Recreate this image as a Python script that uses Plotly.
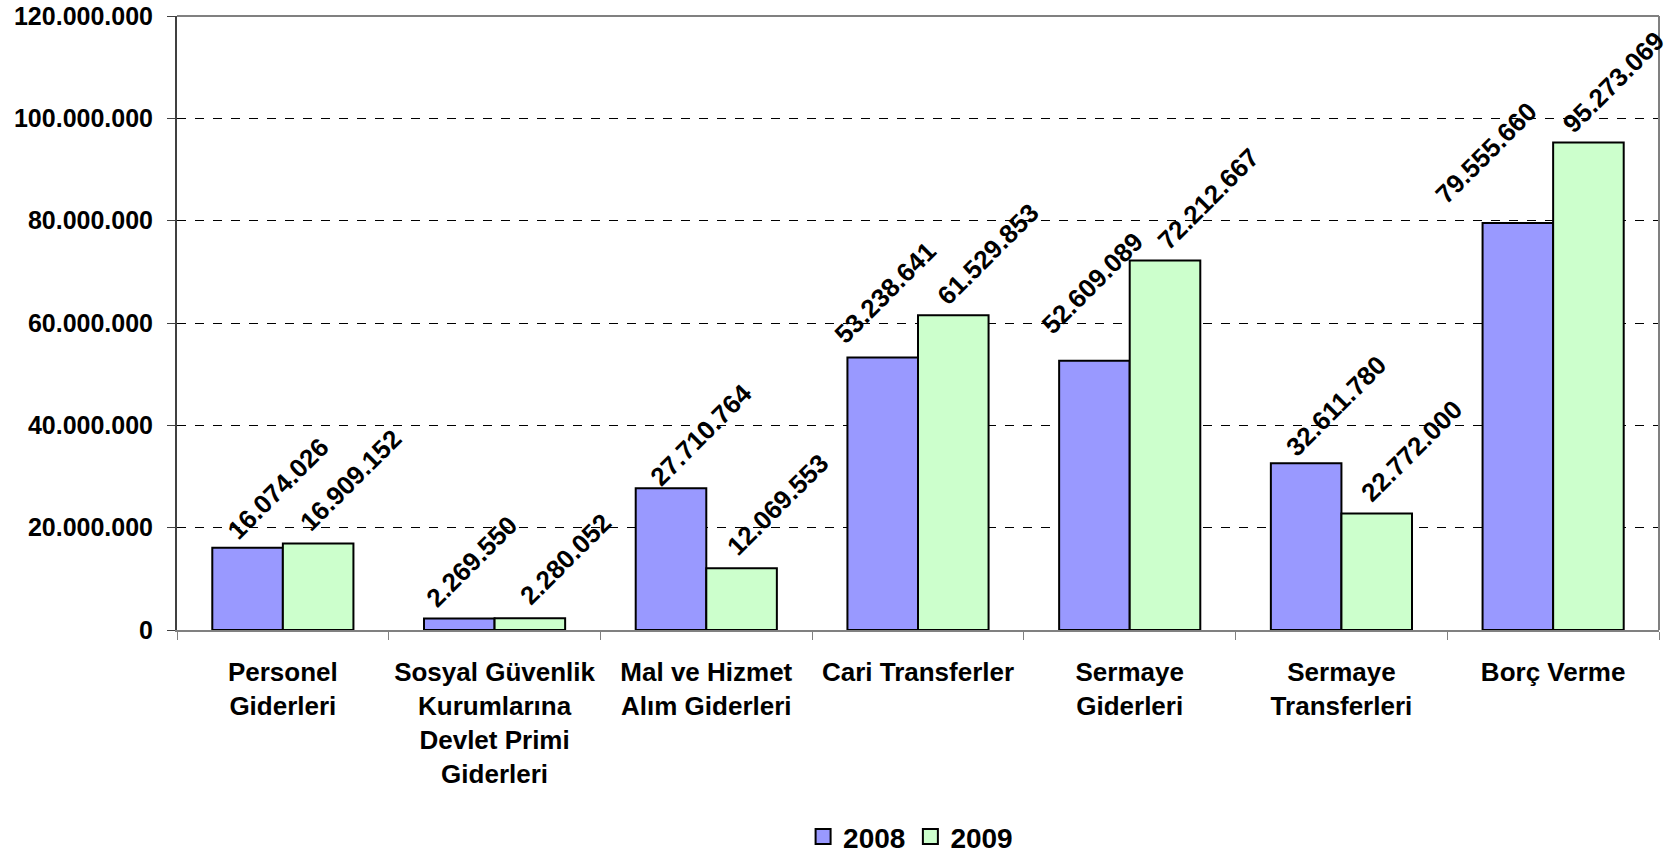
import plotly.graph_objects as go

categories = ["Personel<br>Giderleri",
              "Sosyal Güvenlik<br>Kurumlarına<br>Devlet Primi<br>Giderleri",
              "Mal ve Hizmet<br>Alım Giderleri",
              "Cari Transferler",
              "Sermaye<br>Giderleri",
              "Sermaye<br>Transferleri",
              "Borç Verme"]
v2008 = [16074026, 2269550, 27710764, 53238641, 52609089, 32611780, 79555660]
v2009 = [16909152, 2280052, 12069553, 61529853, 72212667, 22772000, 95273069]
series_names = ["2008", "2009"]
colors = ["#9999FF", "#CCFFCC"]
ytick_vals = [0, 20000000, 40000000, 60000000, 80000000, 100000000, 120000000]

# label placement offsets in pixels (centre of rotated label relative to bar top centre)
label_off_2008 = [(30, -59), (13, -57), (30, -53), (2, -65), (-2, -78), (30, -57), (-32, -70)]
label_off_2009 = [(33, -63), (36, -59), (36, -63), (35, -61), (43, -62), (35, -62), (25, -61)]

FONT = "Liberation Sans, Arial, sans-serif"
LBL = 25

def fmt(v):
    return f"{v:,}".replace(",", ".")

fig = go.Figure()
for name, vals, col in zip(series_names, [v2008, v2009], colors):
    fig.add_trace(go.Bar(x=categories, y=vals, name=name, showlegend=False,
                         marker=dict(color=col, line=dict(color="black", width=2))))
for name, col in zip(series_names, colors):
    fig.add_trace(go.Scatter(x=[None], y=[None], mode="markers", name=name,
                             marker=dict(symbol="square", size=15, color=col,
                                         line=dict(color="black", width=2))))

ann = []
for vals, offs, off in [(v2008, label_off_2008, -1/6), (v2009, label_off_2009, 1/6)]:
    for i, v in enumerate(vals):
        dx, dy = offs[i]
        ann.append(dict(x=i + off, y=v, xref="x", yref="y", text=fmt(v),
                        showarrow=False, textangle=-45, xanchor="center", yanchor="middle",
                        xshift=dx, yshift=-dy,
                        font=dict(family=FONT, size=26, color="black", weight="bold")))

fig.update_layout(
    width=1670, height=856,
    margin=dict(l=177, r=11, t=16, b=226, autoexpand=False),
    plot_bgcolor="white", paper_bgcolor="white",
    barmode="group", bargap=1/3, bargroupgap=0,
    font=dict(family=FONT, size=LBL, color="black"),
    annotations=ann,
    legend=dict(orientation="h", x=0.495, xanchor="center", y=-0.337, yanchor="middle",
                font=dict(family=FONT, size=28, color="black", weight="bold"),
                itemsizing="trace", itemwidth=30, traceorder="normal"),
    xaxis=dict(range=[-0.5, 6.5], showline=True, linecolor="#808080", linewidth=2,
               ticks="outside", tickson="boundaries", ticklen=8, tickcolor="#808080",
               tickfont=dict(family=FONT, size=26, color="black", weight="bold"),
               ticklabelstandoff=18),
    yaxis=dict(range=[0, 120000000], tickvals=ytick_vals,
               ticktext=[fmt(t) for t in ytick_vals],
               showgrid=True, gridcolor="black", griddash="dash", gridwidth=1,
               showline=True, linecolor="#404040", linewidth=2, ticks="outside",
               ticklen=8, tickcolor="#404040", zeroline=False,
               tickfont=dict(family=FONT, size=LBL, color="black", weight="bold"),
               ticklabelstandoff=9),
    shapes=[dict(type="line", xref="paper", yref="paper", x0=0, x1=1, y0=1, y1=1,
                 line=dict(color="#808080", width=2), layer="above"),
            dict(type="line", xref="paper", yref="paper", x0=1, x1=1, y0=0, y1=1,
                 line=dict(color="#808080", width=2), layer="above")],
)

fig.write_html("out.html", config={"displayModeBar": False},
               post_script="document.body.style.margin='0';document.body.style.overflow='hidden';")
